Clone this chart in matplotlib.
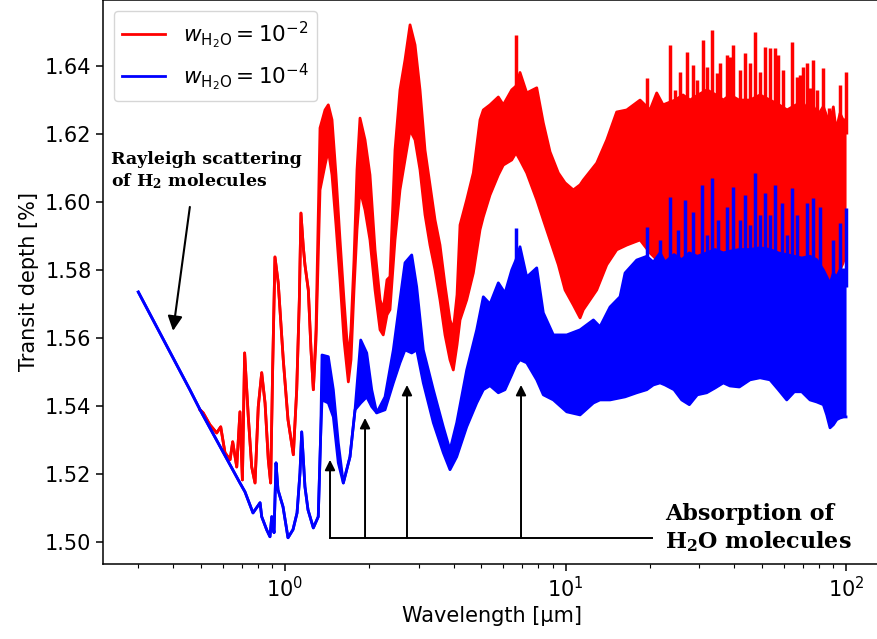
import matplotlib
matplotlib.use('Agg')
import matplotlib.pyplot as plt

plt.rcParams['font.size'] = 15
plt.rcParams['axes.linewidth'] = 1.1

# transit spectrum, H2O mass fraction 1e-2 (upper / lower edge of the line forest)
wl_red = [0.498, 0.511, 0.540, 0.571, 0.590, 0.611, 0.637, 0.651, 0.673, 0.691,
          0.705, 0.718, 0.740, 0.761, 0.782, 0.803, 0.826, 0.849, 0.872, 0.889,
          0.904, 0.921, 0.946, 0.986, 1.025, 1.071, 1.101, 1.125, 1.140, 1.162,
          1.178, 1.211, 1.238, 1.262,
          1.290, 1.333, 1.389, 1.427, 1.471, 1.520, 1.571, 1.623, 1.682, 1.719,
          1.762, 1.806, 1.851, 1.929, 2.009, 2.094, 2.182, 2.240, 2.310, 2.367,
          2.467, 2.570, 2.678, 2.791, 2.908, 3.029, 3.156, 3.288, 3.426, 3.569,
          3.719, 3.874, 3.981, 4.105, 4.207, 4.444, 4.692, 4.957, 5.093, 5.381,
          5.761, 6.001, 6.431, 6.661, 6.883, 7.273, 7.896, 8.334, 8.806, 9.426,
          9.96, 10.66, 11.27, 11.57, 12.92, 14.03, 15.22, 16.53, 18.44, 20.01,
          21.14, 22.27, 24.57, 26.23, 27.79, 29.67, 31.95, 34.40, 36.52, 38.58,
          41.55, 45.47, 49.36, 53.58, 57.69, 61.63, 66.34, 70.29, 74.40, 79.47,
          83.00, 86.28, 87.68, 90.11, 92.13, 95.19, 97.57, 100.0]
red_hi = [1.5389, 1.5380, 1.5345, 1.5321, 1.5339, 1.5263, 1.5242, 1.5295, 1.5221, 1.5383,
          1.5183, 1.5556, 1.5368, 1.5221, 1.5174, 1.5398, 1.5498, 1.5409, 1.5242, 1.5174,
          1.5515, 1.5838, 1.5762, 1.5536, 1.5360, 1.5257, 1.5448, 1.5712, 1.5967, 1.5868,
          1.5815, 1.5741, 1.5565, 1.5448,
          1.5624, 1.6217, 1.6270, 1.6285, 1.6241, 1.6079, 1.5888, 1.5712, 1.5536, 1.5624,
          1.5829, 1.6094, 1.6246, 1.6182, 1.6079, 1.5859, 1.5712, 1.5683, 1.5771, 1.5780,
          1.6152, 1.6329, 1.6417, 1.6520, 1.6461, 1.6329, 1.6152, 1.6050, 1.5947, 1.5873,
          1.5756, 1.5653, 1.5624, 1.5727, 1.5932, 1.6006, 1.6085, 1.6241, 1.6270, 1.6285,
          1.6308, 1.6285, 1.6329, 1.6340, 1.6380, 1.6320, 1.6335, 1.6232, 1.6147, 1.6085,
          1.6056, 1.6035, 1.6050, 1.6064, 1.6114, 1.6182, 1.6264, 1.6270, 1.6299, 1.6270,
          1.6320, 1.6285, 1.6299, 1.6314, 1.6299, 1.6314, 1.6329, 1.6314, 1.6299, 1.6314,
          1.6299, 1.6299, 1.6314, 1.6299, 1.6285, 1.6270, 1.6285, 1.6270, 1.6299, 1.6255,
          1.6280, 1.6241, 1.6230, 1.6279, 1.6211, 1.6260, 1.6241, 1.6241]
red_lo = [1.5389, 1.5380, 1.5345, 1.5321, 1.5339, 1.5263, 1.5242, 1.5295, 1.5221, 1.5383,
          1.5183, 1.5556, 1.5368, 1.5221, 1.5174, 1.5398, 1.5498, 1.5409, 1.5242, 1.5174,
          1.5515, 1.5838, 1.5762, 1.5536, 1.5360, 1.5257, 1.5448, 1.5712, 1.5967, 1.5868,
          1.5815, 1.5741, 1.5565, 1.5448,
          1.5594, 1.6035, 1.6108, 1.6152, 1.6079, 1.5932, 1.5771, 1.5594, 1.5471, 1.5536,
          1.5741, 1.5918, 1.6035, 1.5976, 1.5888, 1.5741, 1.5624, 1.5609, 1.5668, 1.5683,
          1.5888, 1.6035, 1.6123, 1.6211, 1.6182, 1.6094, 1.5962, 1.5873, 1.5800, 1.5712,
          1.5609, 1.5536, 1.5506, 1.5580, 1.5653, 1.5712, 1.5791, 1.5918, 1.5956, 1.6020,
          1.6079, 1.6108, 1.6123, 1.6144, 1.6123, 1.6085, 1.6006, 1.5947, 1.5888, 1.5815,
          1.5741, 1.5697, 1.5659, 1.5683, 1.5741, 1.5815, 1.5859, 1.5873, 1.5888, 1.5850,
          1.5830, 1.5820, 1.5815, 1.5810, 1.5800, 1.5810, 1.5815, 1.5820, 1.5825, 1.5820,
          1.5815, 1.5820, 1.5825, 1.5820, 1.5810, 1.5800, 1.5800, 1.5800, 1.5795, 1.5790,
          1.5780, 1.5760, 1.5741, 1.5770, 1.5790, 1.5800, 1.5820, 1.5850]
# narrow line peaks sticking out of the red band
red_spike_wl = [6.661, 19.48, 23.58, 24.57, 25.60, 27.05, 28.55, 29.36, 30.99, 31.86,
                33.20, 34.59, 35.54, 37.56, 38.58, 39.65, 41.89, 43.64, 45.47, 47.38,
                49.36, 51.42, 53.58, 55.84, 57.39, 59.77, 64.05, 66.71, 68.55, 70.43,
                72.42, 74.40, 76.44, 78.60, 83.00, 86.88, 95.19, 100.0]
red_spike_top = [1.6490, 1.6364, 1.6461, 1.6329, 1.6382, 1.6440, 1.6402, 1.6358, 1.6476, 1.6396,
                 1.6505, 1.6379, 1.6408, 1.6431, 1.6426, 1.6461, 1.6387, 1.6437, 1.6408, 1.6499,
                 1.6382, 1.6455, 1.6452, 1.6452, 1.6431, 1.6387, 1.6470, 1.6367, 1.6373, 1.6396,
                 1.6408, 1.6335, 1.6417, 1.6329, 1.6393, 1.6276, 1.6343, 1.6382]

# transit spectrum, H2O mass fraction 1e-4
wl_blue = [0.300, 0.458, 0.498, 0.691, 0.720, 0.769, 0.815, 0.826, 0.861, 0.884,
           0.897, 0.914, 0.929, 0.944, 0.984, 1.025, 1.068, 1.104, 1.131, 1.147,
           1.178, 1.208, 1.262, 1.314,
           1.341, 1.355, 1.427, 1.487, 1.549, 1.614, 1.705, 1.777, 1.862, 1.956,
           2.038, 2.123, 2.273, 2.433, 2.570, 2.678, 2.830, 2.948, 3.112, 3.379,
           3.667, 3.874, 4.094, 4.444, 4.824, 5.093, 5.381, 5.761, 6.085, 6.431,
           6.661, 6.883, 7.273, 7.896, 8.334, 9.05, 10.10, 11.27, 12.57, 13.27,
           14.41, 15.64, 16.30, 17.94, 19.48, 20.56, 21.73, 22.63, 24.37, 25.95,
           27.63, 29.50, 31.86, 34.12, 36.52, 38.58, 41.65, 45.47, 49.36, 53.58,
           57.39, 61.46, 65.42, 69.52, 74.40, 78.60, 83.00, 85.33, 87.68, 90.11,
           92.64, 95.19, 98.07, 100.0]
blue_hi = [1.5735, 1.5448, 1.5389, 1.5174, 1.5148, 1.5086, 1.5116, 1.5075, 1.5036, 1.5016,
           1.5075, 1.5028, 1.5233, 1.5154, 1.5104, 1.5013, 1.5037, 1.5086, 1.5204, 1.5324,
           1.5163, 1.5095, 1.5042, 1.5075,
           1.5321, 1.5550, 1.5545, 1.5448, 1.5292, 1.5174, 1.5251, 1.5389, 1.5594, 1.5556,
           1.5448, 1.5380, 1.5427, 1.5565, 1.5712, 1.5821, 1.5844, 1.5750, 1.5565, 1.5448,
           1.5339, 1.5271, 1.5351, 1.5506, 1.5624, 1.5721, 1.5700, 1.5762, 1.5732, 1.5800,
           1.5830, 1.5868, 1.5779, 1.5806, 1.5674, 1.5609, 1.5609, 1.5624, 1.5653, 1.5633,
           1.5691, 1.5721, 1.5791, 1.5829, 1.5840, 1.5823, 1.5850, 1.5823, 1.5845, 1.5830,
           1.5850, 1.5840, 1.5850, 1.5860, 1.5850, 1.5855, 1.5860, 1.5860, 1.5865, 1.5860,
           1.5850, 1.5845, 1.5840, 1.5835, 1.5840, 1.5830, 1.5800, 1.5780, 1.5760, 1.5790,
           1.5780, 1.5800, 1.5800, 1.5800]
blue_lo = [1.5735, 1.5448, 1.5389, 1.5174, 1.5148, 1.5086, 1.5116, 1.5075, 1.5036, 1.5016,
           1.5075, 1.5028, 1.5233, 1.5154, 1.5104, 1.5013, 1.5037, 1.5086, 1.5204, 1.5324,
           1.5163, 1.5095, 1.5042, 1.5075,
           1.5321, 1.5418, 1.5409, 1.5368, 1.5233, 1.5174, 1.5251, 1.5389, 1.5409, 1.5427,
           1.5398, 1.5380, 1.5389, 1.5468, 1.5527, 1.5565, 1.5556, 1.5565, 1.5468, 1.5351,
           1.5263, 1.5213, 1.5251, 1.5339, 1.5409, 1.5448, 1.5460, 1.5439, 1.5448, 1.5492,
           1.5521, 1.5536, 1.5527, 1.5477, 1.5433, 1.5418, 1.5383, 1.5374, 1.5409, 1.5418,
           1.5418, 1.5424, 1.5427, 1.5439, 1.5448, 1.5462, 1.5468, 1.5462, 1.5448, 1.5418,
           1.5404, 1.5433, 1.5439, 1.5453, 1.5468, 1.5459, 1.5456, 1.5477, 1.5483, 1.5477,
           1.5448, 1.5418, 1.5442, 1.5442, 1.5418, 1.5412, 1.5404, 1.5374, 1.5336, 1.5345,
           1.5360, 1.5365, 1.5368, 1.5368]
blue_spike_wl = [6.661, 19.48, 21.73, 23.58, 25.24, 26.67, 28.55, 30.59, 31.86, 33.20,
                 35.05, 37.56, 39.65, 41.89, 43.64, 45.47, 47.38, 49.36, 51.42, 53.58,
                 55.84, 59.01, 61.46, 64.05, 66.71, 72.42, 76.44, 80.77, 90.11, 95.19,
                 100.0]
blue_spike_top = [1.5923, 1.5926, 1.5888, 1.6014, 1.5918, 1.6006, 1.5970, 1.6050, 1.5903, 1.6070,
                  1.5947, 1.5985, 1.6044, 1.5947, 1.6020, 1.5932, 1.6085, 1.5962, 1.6026, 1.5962,
                  1.6050, 1.5997, 1.5903, 1.6041, 1.5962, 1.5997, 1.6011, 1.5985, 1.5888, 1.5938,
                  1.5982]

# H2O bands marked with arrows: wavelength and arrow tip
h2o_band_wl = [1.447, 1.929, 2.722, 6.94]
h2o_band_tip = [1.5242, 1.5365, 1.5462, 1.5462]

fig = plt.figure(figsize=(8.78, 6.39), dpi=100)
ax = fig.add_axes([0.1173, 0.1174, 0.8866, 0.8826])

# red first, blue on top of it
ax.fill_between(wl_red, red_lo, red_hi, color='red', lw=0, zorder=2)
ax.plot(wl_red, red_hi, color='red', lw=2, zorder=2.1, label=r'$w_{\mathrm{H_2O}} = 10^{-2}$')
ax.plot(wl_red, red_lo, color='red', lw=2, zorder=2.1)
ax.vlines(red_spike_wl, 1.62, red_spike_top, color='red', lw=2.5, zorder=2.1)

ax.fill_between(wl_blue, blue_lo, blue_hi, color='blue', lw=0, zorder=3)
ax.plot(wl_blue, blue_hi, color='blue', lw=2, zorder=3.1, label=r'$w_{\mathrm{H_2O}} = 10^{-4}$')
ax.plot(wl_blue, blue_lo, color='blue', lw=2, zorder=3.1)
ax.vlines(blue_spike_wl, 1.575, blue_spike_top, color='blue', lw=2.5, zorder=3.1)

ax.set_xscale('log')
ax.set_xlim(0.2245, 133.7)
ax.set_ylim(1.4936, 1.6593)
ax.set_xlabel('Wavelength [μm]')
ax.set_ylabel('Transit depth [%]')
ax.tick_params(which='major', length=4.8, width=1.1)
ax.tick_params(which='minor', length=2.7, width=0.8)
leg = ax.legend(loc='upper left', fontsize=15.5)
leg.set_zorder(5)

serif = dict(family='DejaVu Serif', fontweight='bold', math_fontfamily='dejavuserif')

# Rayleigh slope
ax.text(0.2397, 1.6091, 'Rayleigh scattering\nof H$_\\mathbf{2}$ molecules',
        ha='left', va='center', fontsize=12.5, **serif)
ax.annotate('', xy=(0.399, 1.5621), xytext=(0.458, 1.5985),
            arrowprops=dict(arrowstyle='-|>', color='k', lw=1.5,
                            mutation_scale=22, shrinkA=0, shrinkB=0))

# water bands
ax.plot([h2o_band_wl[0], 20.34], [1.5013, 1.5013], color='k', lw=1.4, zorder=4)
for w, tip in zip(h2o_band_wl, h2o_band_tip):
    ax.annotate('', xy=(w, tip), xytext=(w, 1.5013),
                arrowprops=dict(arrowstyle='-|>', color='k', lw=1.4,
                                mutation_scale=15, shrinkA=0, shrinkB=0))
ax.text(22.63, 1.5040, 'Absorption of\nH$_\\mathbf{2}$O molecules',
        ha='left', va='center', fontsize=16, **serif)

fig.savefig('out.png', dpi=100)
